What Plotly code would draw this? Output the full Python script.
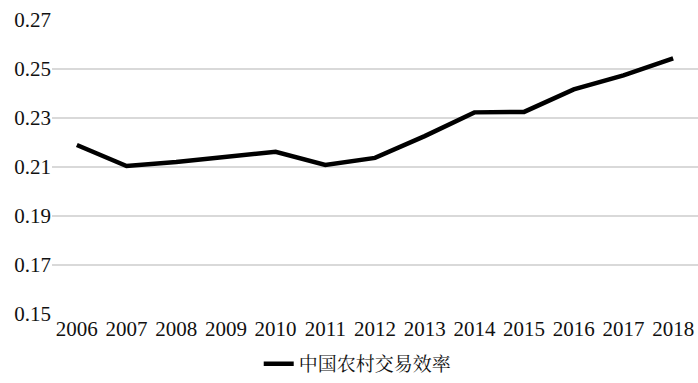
import plotly.graph_objects as go

years = ["2006", "2007", "2008", "2009", "2010", "2011", "2012",
         "2013", "2014", "2015", "2016", "2017", "2018"]
efficiency = [0.219, 0.2104, 0.2120, 0.2140, 0.2162, 0.2108, 0.2137,
              0.2226, 0.2323, 0.2325, 0.2417, 0.2474, 0.2543]
series_name = "中国农村交易效率"
y_ticks = [0.15, 0.17, 0.19, 0.21, 0.23, 0.25, 0.27]

serif = "Liberation Serif"

fig = go.Figure()
fig.add_trace(go.Scatter(
    x=years, y=efficiency, mode="lines", name=series_name,
    line=dict(color="black", width=4.5),
))

fig.update_layout(
    width=698, height=383,
    margin=dict(l=52, r=0, t=20, b=69, autoexpand=False),
    plot_bgcolor="white", paper_bgcolor="white",
    font=dict(family=serif, size=21, color="#111"),
    showlegend=True,
    legend=dict(orientation="h", x=0.32, xanchor="left",
                yref="container", y=0.0, yanchor="bottom",
                font=dict(family="Noto Serif CJK SC, Noto Sans CJK SC", size=19, color="#111"),
                itemwidth=30),
)
fig.update_xaxes(type="category", showgrid=False, showline=False, ticks="",
                 tickfont=dict(family=serif, size=21, color="#111"),
                 range=[-0.5, len(years) - 0.5], automargin=False)
fig.update_yaxes(range=[0.15, 0.27], tickvals=y_ticks,
                 ticktext=[f"{v:.2f}" for v in y_ticks],
                 showgrid=True, gridcolor="#d9d9d9", gridwidth=1.5,
                 zeroline=False, showline=False, ticks="", automargin=False,
                 ticklabelstandoff=0,
                 tickfont=dict(family=serif, size=21, color="#111"))

fig.write_html("out.html")
